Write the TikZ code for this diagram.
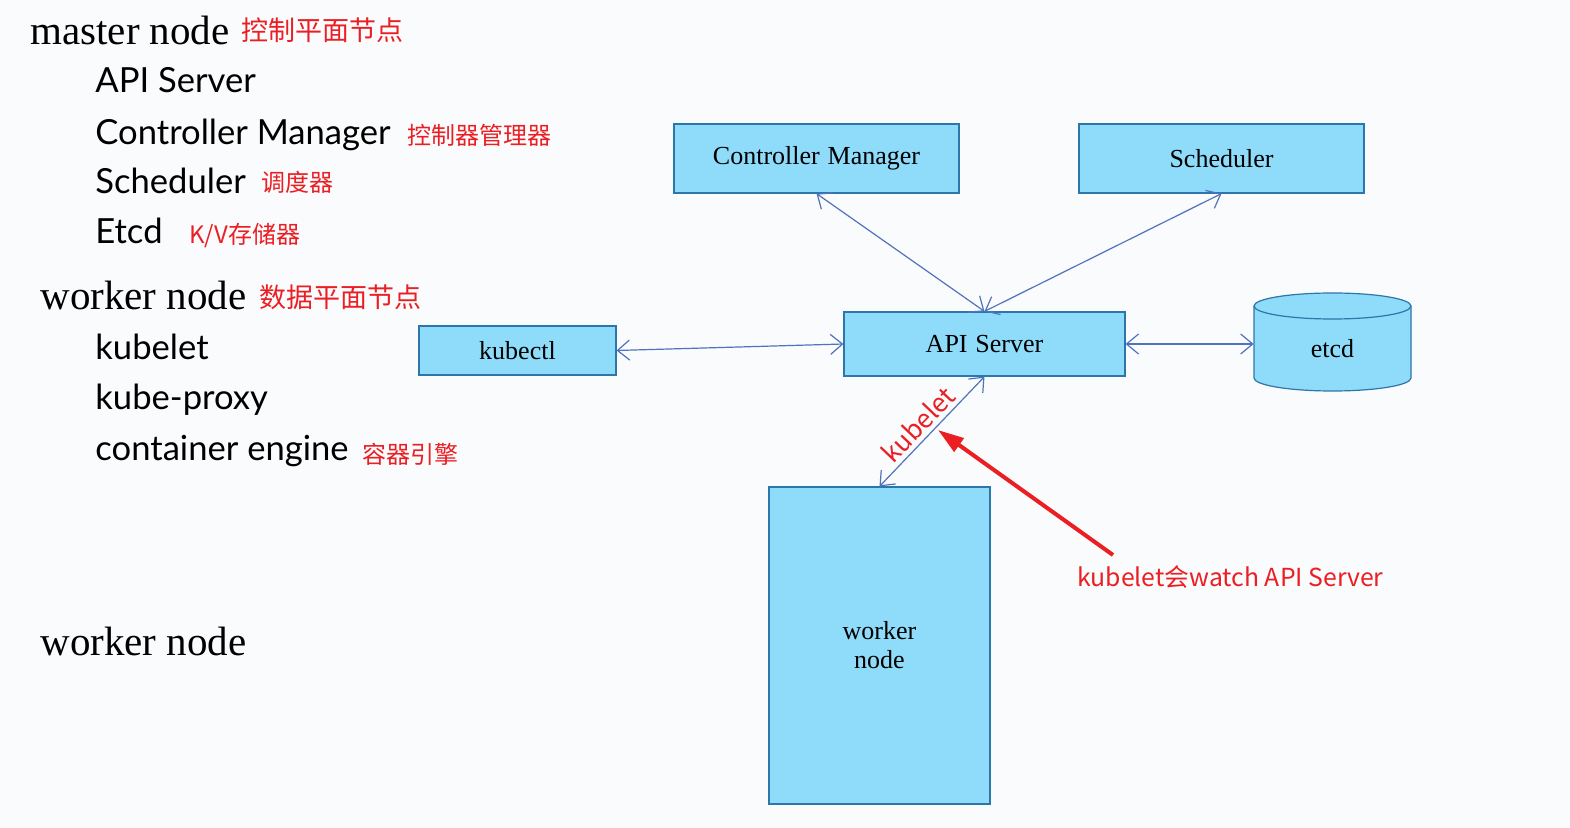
\documentclass[tikz,border=0pt]{standalone}
\usepackage{fontspec}
\setmainfont{Liberation Serif}
\newfontfamily\cjk{Noto Sans CJK SC}
\newfontfamily\listfont{Lato}
\usetikzlibrary{arrows.meta}
\definecolor{boxfill}{RGB}{142,219,250}
\definecolor{boxline}{RGB}{45,118,170}
\definecolor{arrowblue}{RGB}{80,115,190}
\definecolor{redtxt}{RGB}{235,30,35}
\definecolor{bg}{RGB}{250,251,252}
\begin{document}
\begin{tikzpicture}[x=0.5pt,y=-0.5pt,
  box/.style={draw=boxline, fill=boxfill, line width=0.6pt, inner sep=0pt, font=\fontsize{13}{14.5}\selectfont, align=center},
  link/.style={draw=arrowblue, line width=0.6pt, {Straight Barb[length=6pt,width=10pt]}-{Straight Barb[length=6pt,width=10pt]}},
  hdr/.style={anchor=base west, inner sep=0pt, font=\fontsize{20.5}{24}\selectfont},
  itm/.style={anchor=base west, inner sep=0pt, font=\listfont\fontsize{17.3}{21}\selectfont},
  cnote/.style={anchor=base west, inner sep=0pt, text=redtxt, font=\cjk\fontsize{12}{14}\selectfont},
  bignote/.style={cnote, font=\cjk\fontsize{13.5}{16}\selectfont},
]
\fill[bg] (0,0) rectangle (1570,828);
\useasboundingbox (0,0) rectangle (1570,828);

% left text column
\node[hdr] (mn) at (30,45) {master node};
\node[bignote] (mnc) at (241,41) {控制平面节点};
\node[itm] (i1) at (95,93) {API Server};
\node[itm] (i2) at (95,145) {Controller Manager};
\node[cnote] (i2c) at (407,145) {控制器管理器};
\node[itm] (i3) at (95,194) {Scheduler};
\node[cnote] (i3c) at (261,192) {调度器};
\node[itm] (i4) at (95,244) {Etcd};
\node[cnote] (i4c) at (189,244) {K/V存储器};
\node[hdr] (wn) at (40,310) {worker node};
\node[bignote] (wnc) at (259,308) {数据平面节点};
\node[itm] (k1) at (95,360) {kubelet};
\node[itm] (k2) at (95,410) {kube-proxy};
\node[itm] (k3) at (95,461) {container engine};
\node[cnote] (k3c) at (362,464) {容器引擎};
\node[hdr] (wn2) at (40,655) {worker node};

% diagram boxes
\node[box, minimum width=142.5pt, minimum height=34.5pt] (cm) at (816.5,158.5) {Controller\hspace{0.3em}Manager};
\node[box, minimum width=142.5pt, minimum height=34.5pt] (sched) at (1221.5,158.5) {Scheduler};
\node[box, minimum width=98.5pt, minimum height=24.5pt] (kubectl) at (517.5,350.5) {kubectl};
\node[box, minimum width=140.5pt, minimum height=32pt] (api) at (984.5,344) {API\hspace{0.3em}Server};
\node[box, minimum width=110.5pt, minimum height=158.5pt] (worker) at (879.5,645.5) {worker\\node};

% etcd cylinder
\fill[boxfill] (1254,306) -- (1254,378) arc[start angle=180,end angle=0,x radius=78.5,y radius=13] -- (1411,306) -- cycle;
\draw[boxline, line width=0.6pt] (1254,306) -- (1254,378) arc[start angle=180,end angle=0,x radius=78.5,y radius=13] -- (1411,306);
\draw[boxline, fill=boxfill, line width=0.6pt] (1332.5,306) ellipse [x radius=78.5, y radius=13];
\node[inner sep=0pt, minimum width=78.5pt, minimum height=42.5pt, font=\fontsize{13}{14.5}\selectfont] (etcd) at (1332.5,348.5) {etcd};

% connectors
\draw[link] (cm.south) -- (api.north);
\draw[link] (sched.south) -- (api.north);
\draw[link] (kubectl.east) -- (api.west);
\draw[link] (api.east) -- (api.east -| etcd.west);
\draw[link] (api.south) -- node[sloped, above, pos=0.53, text=redtxt, font=\cjk\fontsize{13}{15}\selectfont, inner sep=2pt] (kl) {kubelet} (worker.north);

% red annotation
\node[cnote, font=\cjk\fontsize{12.4}{15}\selectfont] (watch) at (1077,587) {kubelet会watch API Server};
\coordinate (rtail) at (1113,555);
\coordinate (rtip) at (938,430);
\draw[redtxt, line width=2pt, -{Triangle[length=13pt,width=8pt]}] (rtail) -- (rtip);
\end{tikzpicture}
\end{document}
